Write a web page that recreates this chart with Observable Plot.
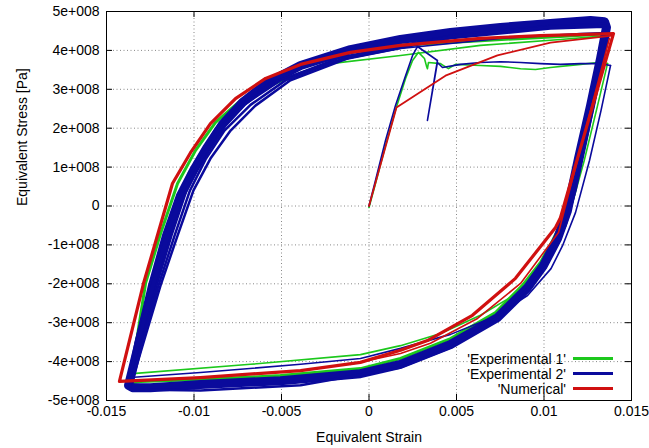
<!DOCTYPE html>
<html><head><meta charset="utf-8">
<script src="https://cdn.jsdelivr.net/npm/d3@7"></script>
<script src="https://cdn.jsdelivr.net/npm/@observablehq/plot@0.6"></script>
<style>
body{margin:0;background:#fff;font-family:"Liberation Sans",Arial,sans-serif;}
#wrap{position:relative;width:649px;height:448px;}
#legend{position:absolute;right:36px;top:351px;font-size:14px;color:#000;}
.row{display:flex;align-items:center;justify-content:flex-end;height:15px;white-space:nowrap;}
.sw{width:40px;height:2.5px;margin-left:7px;}
</style></head><body><div id="wrap"></div>
<script>
const xTicks = [-0.015, -0.01, -0.005, 0, 0.005, 0.01, 0.015];
const xTickLabels = ["-0.015", "-0.01", "-0.005", "0", "0.005", "0.01", "0.015"];
const yTicks = [-5e8, -4e8, -3e8, -2e8, -1e8, 0, 1e8, 2e8, 3e8, 4e8, 5e8];
const yTickLabels = ["-5e+008", "-4e+008", "-3e+008", "-2e+008", "-1e+008", "0", "1e+008", "2e+008", "3e+008", "4e+008", "5e+008"];
const xLabel = "Equivalent Strain";
const yLabel = "Equivalent Stress [Pa]";
const seriesNames = ["'Experimental 1'", "'Experimental 2'", "'Numerical'"];
const seriesColors = ["#1cc81c", "#0a0a9c", "#d01010"];

// Experimental 1 (green)
const exp1Initial = [[0,-0.04e8],[0.00037,0.58e8],[0.00094,1.55e8],[0.00151,2.46e8],[0.00209,3.28e8],[0.00249,3.74e8],[0.00283,3.95e8],[0.00317,3.79e8],[0.00329,3.59e8],[0.00334,3.53e8],[0.0034,3.69e8],[0.00409,3.66e8],[0.00426,3.61e8],[0.00454,3.53e8],[0.00494,3.64e8],[0.00637,3.61e8],[0.00751,3.59e8],[0.00866,3.53e8],[0.00951,3.51e8],[0.01037,3.56e8],[0.01209,3.64e8],[0.01311,3.69e8],[0.01363,3.66e8]];
const exp1Cycle1 = [[0.01363,3.66e8],[0.01306,2.58e8],[0.0123,1.17e8],[0.0115,-0.12e8],[0.01075,-0.96e8],[0.0099,-1.61e8],[0.00845,-2.25e8],[0.00637,-2.81e8],[0.00409,-3.28e8],[0.0018,-3.59e8],[-0.00049,-3.82e8],[-0.00677,-4.07e8],[-0.01351,-4.31e8],[-0.01369,-4.41e8],[-0.01323,-3.46e8],[-0.0126,-2.30e8],[-0.0118,-1.02e8],[-0.01106,0.14e8],[-0.01031,0.86e8],[-0.00934,1.55e8],[-0.00791,2.33e8],[-0.00591,3.02e8],[-0.00391,3.43e8],[-0.0022,3.66e8],[0.0018,3.87e8],[0.00637,4.13e8],[0.01094,4.28e8],[0.01363,4.38e8]];
const exp1Band = [[-0.01369,-4.56e8],[-0.01323,-3.33e8],[-0.01277,-1.99e8],[-0.01191,-0.71e8],[-0.01094,0.58e8],[-0.00991,1.43e8],[-0.00877,2.15e8],[-0.00734,2.71e8],[-0.00563,3.23e8],[-0.00391,3.59e8],[-0.00106,3.95e8],[0.0018,4.13e8],[0.00637,4.25e8],[0.01094,4.36e8],[0.01357,4.43e8],[0.01346,4.20e8],[0.013,3.23e8],[0.01237,1.94e8],[0.01169,0.53e8],[0.01111,-0.32e8],[0.01049,-0.89e8],[0.0098,-1.45e8],[0.00877,-2.04e8],[0.00723,-2.74e8],[0.00466,-3.41e8],[0.0018,-3.92e8],[-0.00049,-4.18e8],[-0.00506,-4.36e8],[-0.00963,-4.46e8],[-0.01306,-4.51e8],[-0.01369,-4.56e8]];

// Experimental 2 (blue)
const exp2Initial = [[0,0],[0.00037,0.66e8],[0.00094,1.68e8],[0.00151,2.58e8],[0.00209,3.35e8],[0.00249,3.87e8],[0.00277,4.10e8],[0.00391,3.74e8],[0.00334,2.20e8],[0.00391,3.69e8],[0.0042,3.56e8],[0.00523,3.64e8],[0.00637,3.69e8],[0.00751,3.71e8],[0.00866,3.69e8],[0.0098,3.66e8],[0.01094,3.64e8],[0.01209,3.66e8],[0.01323,3.66e8],[0.0138,3.61e8]];
const exp2Cycle1 = [[0.0138,3.61e8],[0.01326,2.46e8],[0.0126,1.17e8],[0.0118,-0.17e8],[0.01106,-1.02e8],[0.0104,-1.61e8],[0.00906,-2.30e8],[0.0072,-2.84e8],[0.00466,-3.30e8],[0.0018,-3.66e8],[-0.00049,-3.92e8],[-0.00391,-4.07e8],[-0.00963,-4.28e8],[-0.01363,-4.41e8],[-0.0138,-4.49e8],[-0.01334,-3.46e8],[-0.0126,-2.17e8],[-0.01163,-0.63e8],[-0.01077,0.40e8],[-0.00991,1.17e8],[-0.00877,1.99e8],[-0.00734,2.63e8],[-0.00563,3.17e8],[-0.0022,3.69e8],[0.0018,4.05e8],[0.00751,4.31e8],[0.01209,4.43e8],[0.01357,4.46e8]];
const exp2Band = [[-0.01374,-4.61e8],[-0.01311,-3.46e8],[-0.01237,-2.04e8],[-0.01157,-0.76e8],[-0.01077,0.27e8],[-0.01003,0.91e8],[-0.00929,1.48e8],[-0.00837,2.10e8],[-0.00723,2.66e8],[-0.0058,3.17e8],[-0.00391,3.61e8],[-0.00106,4.02e8],[0.0018,4.28e8],[0.00466,4.46e8],[0.00751,4.59e8],[0.01037,4.69e8],[0.01266,4.77e8],[0.01346,4.74e8],[0.01357,4.59e8],[0.01323,3.79e8],[0.01266,2.58e8],[0.01197,1.22e8],[0.01134,-0.12e8],[0.01077,-0.84e8],[0.00997,-1.53e8],[0.00906,-2.10e8],[0.00734,-2.87e8],[0.00466,-3.56e8],[0.0018,-4.07e8],[-0.00049,-4.31e8],[-0.00506,-4.49e8],[-0.00963,-4.59e8],[-0.01249,-4.67e8],[-0.01351,-4.67e8],[-0.01374,-4.61e8]];
const exp2FanA = [[-0.01363,-4.64e8],[-0.01277,-3.33e8],[-0.01191,-2.04e8],[-0.01094,-0.76e8],[-0.01003,0.40e8],[-0.00906,1.22e8],[-0.00791,1.94e8],[-0.00649,2.58e8],[-0.00449,3.23e8],[-0.00106,3.82e8],[0.00466,4.31e8],[0.01037,4.56e8],[0.01346,4.61e8],[0.01369,4.46e8],[0.01323,3.48e8],[0.01254,1.94e8],[0.0118,0.40e8],[0.01123,-0.50e8],[0.01037,-1.27e8],[0.00923,-2.04e8],[0.00751,-2.81e8],[0.00466,-3.64e8],[0.0018,-4.15e8],[-0.00391,-4.61e8],[-0.00963,-4.74e8],[-0.01363,-4.72e8],[-0.01363,-4.64e8]];
const exp2FanB = [[-0.01369,-4.64e8],[-0.01294,-3.40e8],[-0.01214,-2.04e8],[-0.01129,-0.76e8],[-0.01043,0.40e8],[-0.00963,1.17e8],[-0.0086,1.94e8],[-0.00706,2.63e8],[-0.00506,3.23e8],[-0.00163,3.82e8],[0.00466,4.38e8],[0.01037,4.63e8],[0.0135,4.68e8]];
const exp2FanC = [[-0.01366,-4.64e8],[-0.01286,-3.37e8],[-0.01203,-2.04e8],[-0.01111,-0.76e8],[-0.01023,0.40e8],[-0.00934,1.20e8],[-0.00826,1.94e8],[-0.00677,2.60e8],[-0.00477,3.23e8],[-0.00134,3.82e8],[0.00466,4.35e8],[0.01037,4.60e8],[0.01348,4.64e8]];

// Numerical (red)
const numInitial = [[0,0],[0.00157,2.53e8],[0.00437,3.35e8],[0.00734,3.87e8],[0.01037,4.20e8],[0.01391,4.38e8]];
const numCycle = [[0.01397,4.43e8],[0.01094,-0.30e8],[0.01066,-0.55e8],[0.00837,-1.86e8],[0.00591,-2.81e8],[0.00334,-3.46e8],[0.0018,-3.71e8],[-0.00049,-4.02e8],[-0.00391,-4.23e8],[-0.00963,-4.41e8],[-0.01426,-4.51e8],[-0.01289,-2.00e8],[-0.01123,0.58e8],[-0.0102,1.37e8],[-0.00906,2.12e8],[-0.00763,2.76e8],[-0.00591,3.28e8],[-0.00391,3.64e8],[-0.00106,3.95e8],[0.0018,4.13e8],[0.00637,4.31e8],[0.0098,4.38e8],[0.01397,4.43e8]];
const numCycle2 = [[0.01374,4.31e8],[0.01083,-0.68e8],[0.00866,-1.99e8],[0.0062,-2.89e8],[0.00351,-3.53e8],[0.0018,-3.79e8],[-0.00106,-4.07e8]];

const rows = (id, pts) => pts.map(([x, y]) => ({id, x, y}));
const green = seriesColors[0], blue = seriesColors[1], red = seriesColors[2];

const W = 649, H = 448, mL = 106, mR = 18, mT = 11, mB = 48;
const fw = W - mL - mR, fh = H - mT - mB, tick = 6;
const lineOpts = {x: "x", y: "y", z: "id", strokeLinejoin: "round", strokeLinecap: "round"};

const chart = Plot.plot({
  width: W, height: H,
  marginLeft: mL, marginRight: mR, marginTop: mT, marginBottom: mB,
  style: {fontFamily: "'Liberation Sans', Arial, sans-serif", fontSize: "14px", background: "#fff", color: "#000"},
  x: {domain: [-0.015, 0.015]},
  y: {domain: [-5e8, 5e8]},
  marks: [
    Plot.ruleX(xTicks, {stroke: "#888", strokeDasharray: "1,2.5", strokeWidth: 1}),
    Plot.ruleY(yTicks, {stroke: "#888", strokeDasharray: "1,2.5", strokeWidth: 1}),
    Plot.tickY(yTicks, {y: d => d, insetRight: fw - tick, stroke: "#000"}),
    Plot.tickY(yTicks, {y: d => d, insetLeft: fw - tick, stroke: "#000"}),
    Plot.tickX(xTicks, {x: d => d, insetTop: fh - tick, stroke: "#000"}),
    Plot.tickX(xTicks, {x: d => d, insetBottom: fh - tick, stroke: "#000"}),
    // Experimental 1
    Plot.line([...rows("e1b", exp1Band)], {...lineOpts, stroke: green, strokeWidth: 3}),
    Plot.line([...rows("e1i", exp1Initial), ...rows("e1c", exp1Cycle1)], {...lineOpts, stroke: green, strokeWidth: 1.6}),
    // Experimental 2
    Plot.line(rows("e2b", exp2Band), {...lineOpts, stroke: blue, strokeWidth: 9}),
    Plot.line([...rows("e2fa", exp2FanA), ...rows("e2fb", exp2FanB), ...rows("e2fc", exp2FanC)], {...lineOpts, stroke: blue, strokeWidth: 2.5}),
    Plot.line([...rows("e2i", exp2Initial), ...rows("e2c", exp2Cycle1)], {...lineOpts, stroke: blue, strokeWidth: 1.6}),
    // Numerical
    Plot.line(rows("n2", numCycle2), {...lineOpts, stroke: red, strokeWidth: 1.6}),
    Plot.line(rows("n1", numInitial), {...lineOpts, stroke: red, strokeWidth: 1.8}),
    Plot.line(rows("nc", numCycle), {...lineOpts, stroke: red, strokeWidth: 3.2}),
    Plot.frame({stroke: "#000", strokeWidth: 1}),
    Plot.axisX({ticks: xTicks, tickFormat: d => xTickLabels[xTicks.indexOf(d)], tickSize: 0, tickPadding: 6, label: null}),
    Plot.axisY({ticks: yTicks, tickFormat: d => yTickLabels[yTicks.indexOf(d)], tickSize: 0, tickPadding: 7, label: null}),
    Plot.text([xLabel], {text: d => d, frameAnchor: "bottom", dy: 37, lineAnchor: "middle"}),
    Plot.text([yLabel], {text: d => d, frameAnchor: "left", dx: -84, rotate: -90, lineAnchor: "middle"})
  ]
});
const wrap = document.getElementById("wrap");
wrap.appendChild(chart);
const legend = document.createElement("div");
legend.id = "legend";
seriesNames.forEach((name, i) => {
  const r = document.createElement("div"); r.className = "row";
  const t = document.createElement("span"); t.textContent = name;
  const s = document.createElement("span"); s.className = "sw"; s.style.background = seriesColors[i];
  r.appendChild(t); r.appendChild(s); legend.appendChild(r);
});
wrap.appendChild(legend);
</script></body></html>
